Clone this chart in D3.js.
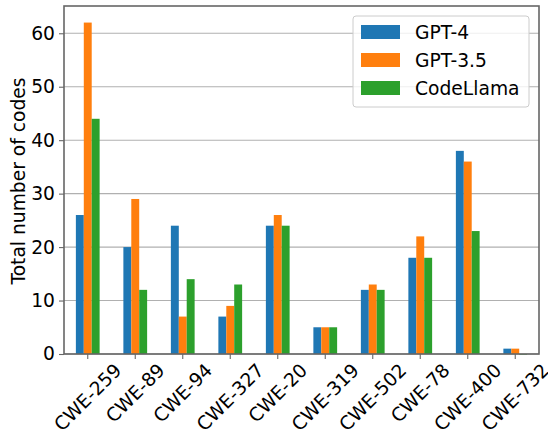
<!DOCTYPE html>
<html><head><meta charset="utf-8">
<script src="https://cdn.jsdelivr.net/npm/d3@7"></script>
<style>body{margin:0;background:#fff}svg{display:block;font-family:"DejaVu Sans",sans-serif}</style>
</head><body><svg id="c" width="548" height="434"></svg>
<script>
const categories = ["CWE-259","CWE-89","CWE-94","CWE-327","CWE-20","CWE-319","CWE-502","CWE-78","CWE-400","CWE-732"];
const seriesNames = ["GPT-4","GPT-3.5","CodeLlama"];
const gpt4 = [26,20,24,7,24,5,12,18,38,1];
const gpt35 = [62,29,7,9,26,5,13,22,36,1];
const codellama = [44,12,14,13,24,5,12,18,23,0];
const yTicks = [0,10,20,30,40,50,60];
const colors = ["#1f77b4","#ff7f0e","#2ca02c"];
const series = [gpt4, gpt35, codellama];

const FS = 18.7;
const svg = d3.select("#c");
const L=64, R=539, T=6, B=354;
const x = d3.scaleLinear().domain([-0.5, 9.5]).range([L, R]);
const y = d3.scaleLinear().domain([0, 65.1]).range([B, T]);
const bw = 0.5/3;

// grid
svg.append("g").selectAll("line").data(yTicks).join("line")
  .attr("x1",L).attr("x2",R).attr("y1",d=>y(d)).attr("y2",d=>y(d))
  .attr("stroke","#b0b0b0").attr("stroke-width",1.1);

// bars
series.forEach((s,si)=>{
  svg.append("g").selectAll("rect").data(s).join("rect")
    .attr("x",(d,i)=>x(i - 0.25 + si*bw))
    .attr("width",x(bw)-x(0))
    .attr("y",d=>y(d))
    .attr("height",d=>Math.max(y(0)-y(d), d===0?0.6:0))
    .attr("fill",colors[si]);
});

// frame
svg.append("rect").attr("x",L).attr("y",T).attr("width",R-L).attr("height",B-T)
  .attr("fill","none").attr("stroke","#666").attr("stroke-width",1.6);

// y axis
const ya = d3.axisLeft(y).tickValues(yTicks).tickSize(5).tickPadding(4);
const gy = svg.append("g").attr("transform",`translate(${L},0)`).call(ya);
gy.select(".domain").remove();
gy.selectAll(".tick line").attr("stroke","#666").attr("stroke-width",1.1);
gy.selectAll(".tick text").attr("font-size",FS).attr("fill","#000").attr("font-family","DejaVu Sans");

// x axis
const gx = svg.append("g");
categories.forEach((c,i)=>{
  const cx = x(i);
  gx.append("line").attr("x1",cx).attr("x2",cx).attr("y1",B).attr("y2",B+5)
    .attr("stroke","#666").attr("stroke-width",1.1);
  const t = gx.append("text").text(c).attr("font-size",FS).attr("fill","#000")
    .attr("text-anchor","middle").attr("dominant-baseline","central");
  const w = t.node().getComputedTextLength();
  const h = FS*0.75;
  const bh = (w+h)*Math.SQRT1_2;
  const cy = B + 8 + bh/2;
  t.attr("transform",`translate(${cx},${cy}) rotate(-45)`);
});

// y label
svg.append("text").text("Total number of codes").attr("font-size",FS)
  .attr("text-anchor","middle").attr("transform",`translate(25,${(T+B)/2+1}) rotate(-90)`);

// legend
const lg = svg.append("g");
lg.append("rect").attr("x",353).attr("y",16).attr("width",176).attr("height",91)
  .attr("rx",3).attr("fill","#fff").attr("fill-opacity",0.8).attr("stroke","#ccc");
seriesNames.forEach((n,i)=>{
  const cy = 32 + i*28;
  lg.append("rect").attr("x",361).attr("y",cy-7).attr("width",39).attr("height",14).attr("fill",colors[i]);
  lg.append("text").attr("x",415).attr("y",cy).attr("dominant-baseline","central")
    .attr("font-size",FS).text(n);
});
</script></body></html>
